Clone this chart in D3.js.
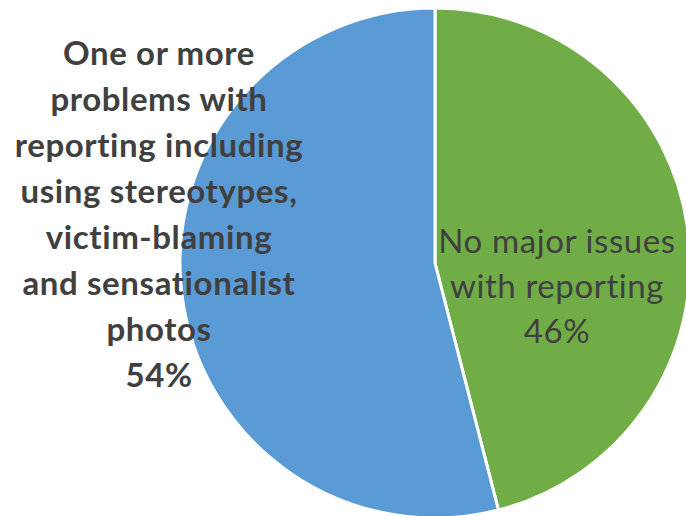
<!DOCTYPE html>
<html>
<head>
<meta charset="utf-8">
<script src="https://cdn.jsdelivr.net/npm/d3@7"></script>
<style>
  html, body { margin: 0; padding: 0; background: #ffffff; }
  svg { display: block; }
  text { font-variant-ligatures: none; }
</style>
</head>
<body>
<svg id="chart" width="686" height="516"></svg>
<script>
// Share of reports by quality of coverage
const categories = ["No major issues with reporting", "One or more problems with reporting including using stereotypes, victim-blaming and sensationalist photos"];
const values = [46, 54];
const colors = ["#70AD47", "#5B9BD5"];
const labelLines = [
  ["No major issues", "with reporting", "46%"],
  ["One or more", "problems with", "reporting including", "using stereotypes,", "victim-blaming", "and sensationalist", "photos", "54%"]
];

const svg = d3.select("#chart");
const cx = 435, cy = 263, radius = 255;

const pie = d3.pie().sort(null).value(d => d)(values);
const arc = d3.arc().innerRadius(0).outerRadius(radius);

const g = svg.append("g").attr("transform", `translate(${cx},${cy})`);
g.selectAll("path")
  .data(pie)
  .join("path")
  .attr("d", arc)
  .attr("fill", (d, i) => colors[i])
  .attr("stroke", "#ffffff")
  .attr("stroke-width", 3)
  .attr("stroke-linejoin", "miter");

// Right slice label, inside the green wedge
const right = svg.append("text")
  .attr("font-family", "Lato, 'Open Sans', sans-serif")
  .attr("font-size", 33)
  .attr("letter-spacing", 0.6)
  .attr("fill", "#404040")
  .attr("text-anchor", "middle");
labelLines[0].forEach((t, i) => {
  right.append("tspan").attr("x", 557).attr("y", 253 + i * 45).text(t);
});

// Left slice label, set outside the blue wedge in bold
const left = svg.append("text")
  .attr("font-family", "Lato, 'Open Sans', sans-serif")
  .attr("font-size", 33)
  .attr("letter-spacing", 0.6)
  .attr("font-weight", "bold")
  .attr("fill", "#404040")
  .attr("text-anchor", "middle");
labelLines[1].forEach((t, i) => {
  left.append("tspan").attr("x", 159).attr("y", 65 + i * 46).text(t);
});
</script>
</body>
</html>
